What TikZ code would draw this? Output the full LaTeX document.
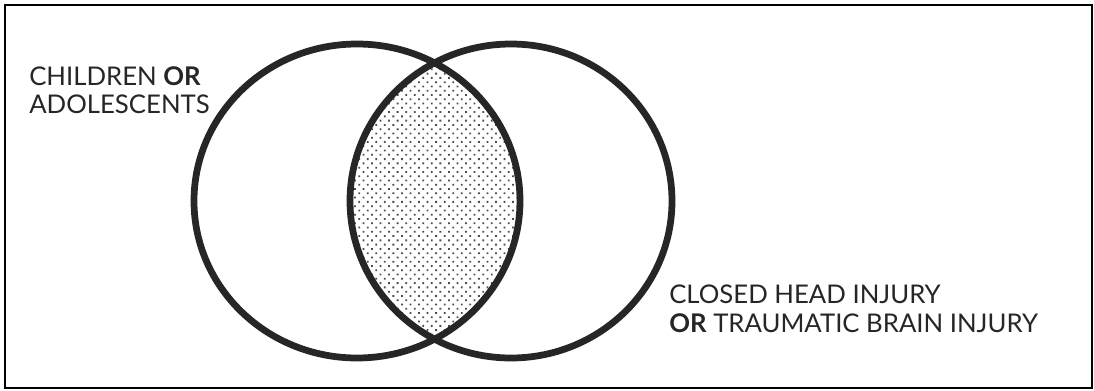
\documentclass[tikz,border=0pt]{standalone}
\usepackage{fontspec}
\setmainfont{Lato}
\usetikzlibrary{patterns.meta}

\tikzset{
  ring/.style={line width=4.8pt, draw=black!85},
  setlabel/.style={anchor=north west, align=left, inner sep=0pt,
    font=\fontsize{18.3}{20.5}\selectfont, text=black!85},
}

\begin{document}
\begin{tikzpicture}[x=0.025cm, y=-0.025cm]
			\useasboundingbox (0,0) rectangle (1094,390);
			\draw[line width=2pt] (5,5) rectangle (1092,388);
			\coordinate (kids) at (357,201);
			\coordinate (tbi) at (511,201);
			% overlap of the two sets
			\begin{scope}
				\clip (kids) ellipse [x radius=163, y radius=157];
				\fill[pattern={Dots[radius=0.9pt, distance=4.3pt, angle=45]}, pattern color=black!70]
					(tbi) ellipse [x radius=161, y radius=157];
			\end{scope}
			\draw[ring] (kids) ellipse [x radius=163, y radius=157];
			\draw[ring] (tbi) ellipse [x radius=161, y radius=157];
			\node[setlabel] (kidslabel) at (29,66) {CHILDREN \textbf{OR}\\ADOLESCENTS};
			\node[setlabel] (tbilabel) at (669,285) {CLOSED HEAD INJURY\\\textbf{OR} TRAUMATIC BRAIN INJURY};
		\end{tikzpicture}
\end{document}
